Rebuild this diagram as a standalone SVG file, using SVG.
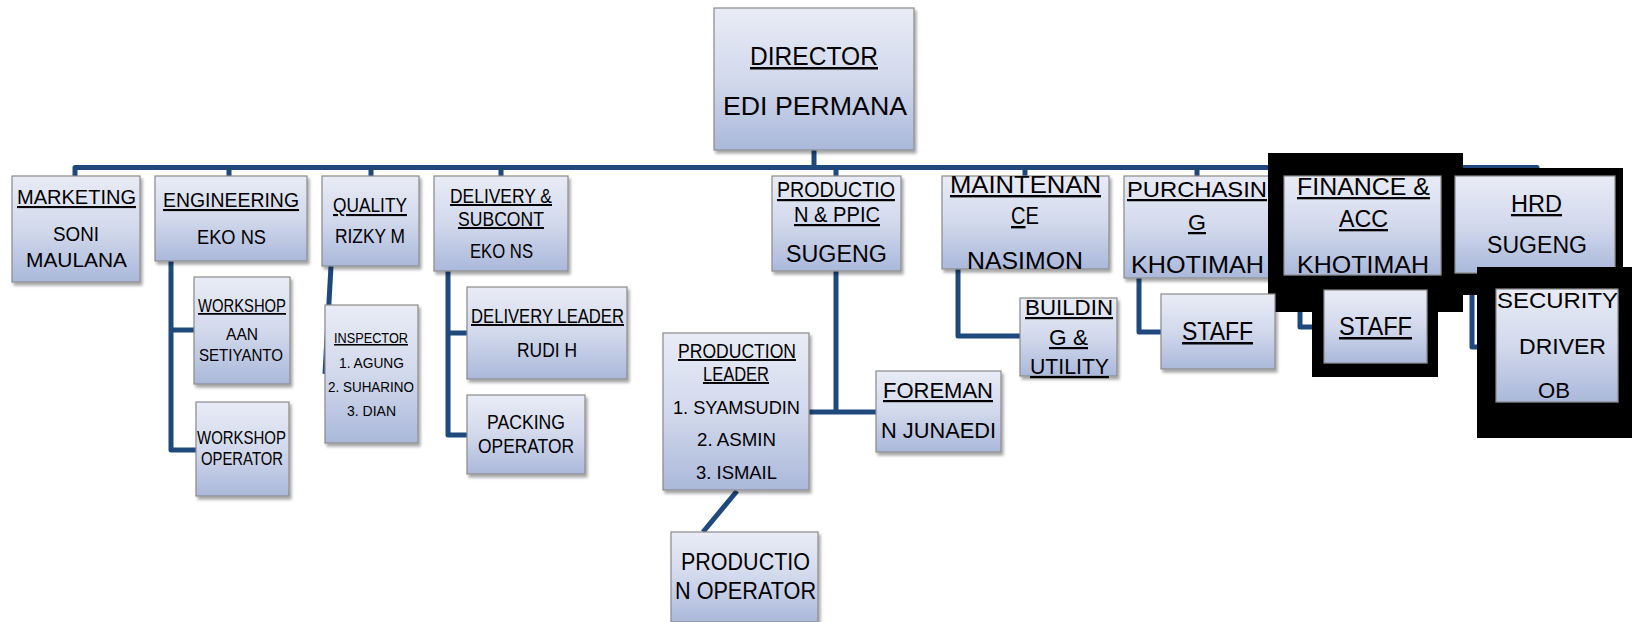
<svg xmlns="http://www.w3.org/2000/svg" width="1632" height="622" viewBox="0 0 1632 622">
<defs>
<linearGradient id="g" x1="0" y1="0" x2="0" y2="1">
<stop offset="0" stop-color="#e9ecf6"/>
<stop offset="0.5" stop-color="#d2d9ec"/>
<stop offset="1" stop-color="#aab8da"/>
</linearGradient>
<filter id="sh" x="-10%" y="-10%" width="125%" height="125%">
<feDropShadow dx="2" dy="3" stdDeviation="1.8" flood-color="#000" flood-opacity="0.35"/>
</filter>
<style>
.box{fill:url(#g);stroke:#8a8a8a;stroke-width:1.2;filter:url(#sh)}
.blk{fill:#000}
text{font-family:"Liberation Sans",Arial,sans-serif;fill:#000}
.u{text-decoration:underline}
.ln{fill:none;stroke:#1f497d;stroke-width:5;stroke-linejoin:round;stroke-linecap:butt}
</style>
</defs>
<rect width="1632" height="622" fill="#fff"/>
<g id="connectors" class="ln">
<path d="M814,150 V168"/>
<path d="M75,177 V167.5 H1537 V177"/>
<path d="M229,167 V177 M371,167 V177 M501,167 V177 M836,167 V177 M1025,167 V177 M1197,167 V177 M1364,167 V177"/>
<path d="M171,261 V450 H196 M171,330 H194"/>
<path d="M331,266 L325,374"/>
<path d="M448,271 V435 H468 M448,333 H468"/>
<path d="M836,271 V412 M809,412 H876"/>
<path d="M737,491 L703,532"/>
<path d="M958,269 V336 H1020"/>
<path d="M1139,278 V332 H1161"/>
<path d="M1300,312 V327 H1312"/>
<path d="M1472,295 V347 H1477"/>
</g>
<g id="director">
<rect class="box" x="714" y="8" width="200" height="142"/>
<text class="u" x="750" y="65" font-size="25" textLength="128" lengthAdjust="spacingAndGlyphs">DIRECTOR</text>
<text x="723" y="115" font-size="25" textLength="184" lengthAdjust="spacingAndGlyphs">EDI PERMANA</text>
</g>
<g id="marketing">
<rect class="box" x="12" y="176" width="128" height="106"/>
<text class="u" x="17" y="204" font-size="21" textLength="119" lengthAdjust="spacingAndGlyphs">MARKETING</text>
<text x="53" y="241" font-size="20" textLength="46" lengthAdjust="spacingAndGlyphs">SONI</text>
<text x="26" y="267" font-size="20" textLength="101" lengthAdjust="spacingAndGlyphs">MAULANA</text>
</g>
<g id="engineering">
<rect class="box" x="155" y="176" width="152" height="85"/>
<text class="u" x="163" y="207" font-size="21" textLength="136" lengthAdjust="spacingAndGlyphs">ENGINEERING</text>
<text x="197" y="244" font-size="20" textLength="69" lengthAdjust="spacingAndGlyphs">EKO NS</text>
</g>
<g id="quality">
<rect class="box" x="322" y="176" width="97" height="90"/>
<text class="u" x="333" y="212" font-size="21" textLength="74" lengthAdjust="spacingAndGlyphs">QUALITY</text>
<text x="335" y="243" font-size="20" textLength="70" lengthAdjust="spacingAndGlyphs">RIZKY M</text>
</g>
<g id="workshop">
<rect class="box" x="194" y="277" width="96" height="107"/>
<text class="u" x="198" y="312" font-size="17.5" textLength="88" lengthAdjust="spacingAndGlyphs">WORKSHOP</text>
<text x="226" y="340" font-size="17" textLength="32" lengthAdjust="spacingAndGlyphs">AAN</text>
<text x="199" y="361" font-size="17" textLength="84" lengthAdjust="spacingAndGlyphs">SETIYANTO</text>
</g>
<g id="workshop-operator">
<rect class="box" x="196" y="402" width="93" height="94"/>
<text x="197" y="444" font-size="17.5" textLength="89" lengthAdjust="spacingAndGlyphs">WORKSHOP</text>
<text x="201" y="465" font-size="17.5" textLength="82" lengthAdjust="spacingAndGlyphs">OPERATOR</text>
</g>
<g id="inspector">
<rect class="box" x="325" y="305" width="93" height="138"/>
<text class="u" x="334" y="343" font-size="15.4" textLength="74" lengthAdjust="spacingAndGlyphs">INSPECTOR</text>
<text x="339" y="368" font-size="15.4" textLength="65" lengthAdjust="spacingAndGlyphs">1. AGUNG</text>
<text x="328" y="392" font-size="15.4" textLength="86" lengthAdjust="spacingAndGlyphs">2. SUHARINO</text>
<text x="347" y="416" font-size="15.4" textLength="49" lengthAdjust="spacingAndGlyphs">3. DIAN</text>
</g>
<g id="delivery">
<rect class="box" x="434" y="176" width="134" height="95"/>
<text class="u" x="450" y="203" font-size="20" textLength="102" lengthAdjust="spacingAndGlyphs">DELIVERY &amp;</text>
<text class="u" x="458" y="226" font-size="20" textLength="86" lengthAdjust="spacingAndGlyphs">SUBCONT</text>
<text x="470" y="258" font-size="20" textLength="63" lengthAdjust="spacingAndGlyphs">EKO NS</text>
</g>
<g id="delivery-leader">
<rect class="box" x="467" y="287" width="160" height="92"/>
<text class="u" x="471" y="323" font-size="19.5" textLength="153" lengthAdjust="spacingAndGlyphs">DELIVERY LEADER</text>
<text x="517" y="357" font-size="19.5" textLength="60" lengthAdjust="spacingAndGlyphs">RUDI H</text>
</g>
<g id="packing-operator">
<rect class="box" x="467" y="395" width="118" height="79"/>
<text x="487" y="429" font-size="20" textLength="78" lengthAdjust="spacingAndGlyphs">PACKING</text>
<text x="478" y="453" font-size="20" textLength="96" lengthAdjust="spacingAndGlyphs">OPERATOR</text>
</g>
<g id="production-ppic">
<rect class="box" x="772" y="176" width="129" height="95"/>
<text class="u" x="777" y="197" font-size="22" textLength="118" lengthAdjust="spacingAndGlyphs">PRODUCTIO</text>
<text class="u" x="794" y="222" font-size="22" textLength="86" lengthAdjust="spacingAndGlyphs">N &amp; PPIC</text>
<text x="786" y="262" font-size="23" textLength="101" lengthAdjust="spacingAndGlyphs">SUGENG</text>
</g>
<g id="production-leader">
<rect class="box" x="663" y="333" width="146" height="157"/>
<text class="u" x="678" y="358" font-size="19.5" textLength="118" lengthAdjust="spacingAndGlyphs">PRODUCTION</text>
<text class="u" x="703" y="381" font-size="19.5" textLength="66" lengthAdjust="spacingAndGlyphs">LEADER</text>
<text x="673" y="414" font-size="18.6" textLength="127" lengthAdjust="spacingAndGlyphs">1. SYAMSUDIN</text>
<text x="697" y="446" font-size="18.6" textLength="79" lengthAdjust="spacingAndGlyphs">2. ASMIN</text>
<text x="696" y="479" font-size="18.6" textLength="81" lengthAdjust="spacingAndGlyphs">3. ISMAIL</text>
</g>
<g id="foreman">
<rect class="box" x="876" y="371" width="125" height="81"/>
<text class="u" x="883" y="398" font-size="22" textLength="110" lengthAdjust="spacingAndGlyphs">FOREMAN</text>
<text x="881" y="438" font-size="22" textLength="115" lengthAdjust="spacingAndGlyphs">N JUNAEDI</text>
</g>
<g id="production-operator">
<rect class="box" x="671" y="532" width="147" height="90"/>
<text x="681" y="570" font-size="23" textLength="129" lengthAdjust="spacingAndGlyphs">PRODUCTIO</text>
<text x="675" y="599" font-size="23" textLength="141" lengthAdjust="spacingAndGlyphs">N OPERATOR</text>
</g>
<g id="maintenance">
<rect class="box" x="942" y="176" width="167" height="93"/>
<text class="u" x="950" y="193" font-size="24" textLength="151" lengthAdjust="spacingAndGlyphs">MAINTENAN</text>
<text x="1011" y="224" font-size="24" textLength="28" lengthAdjust="spacingAndGlyphs"><tspan class="u">C</tspan>E</text>
<text x="967" y="269" font-size="24" textLength="116" lengthAdjust="spacingAndGlyphs">NASIMON</text>
</g>
<g id="building-utility">
<rect class="box" x="1020" y="298" width="97" height="78"/>
<text class="u" x="1025" y="315" font-size="22" textLength="88" lengthAdjust="spacingAndGlyphs">BUILDIN</text>
<text class="u" x="1049" y="345" font-size="22" textLength="39" lengthAdjust="spacingAndGlyphs">G &amp;</text>
<text class="u" x="1030" y="374" font-size="22" textLength="79" lengthAdjust="spacingAndGlyphs">UTILITY</text>
</g>
<g id="purchasing">
<rect class="box" x="1124" y="176" width="145" height="102"/>
<text class="u" x="1127" y="197" font-size="22.5" textLength="140" lengthAdjust="spacingAndGlyphs">PURCHASIN</text>
<text class="u" x="1188" y="230" font-size="22.5" textLength="18" lengthAdjust="spacingAndGlyphs">G</text>
<text x="1131" y="273" font-size="24" textLength="133" lengthAdjust="spacingAndGlyphs">KHOTIMAH</text>
</g>
<g id="finance-acc">
<rect class="blk" x="1268" y="153" width="195" height="159"/>
<rect class="box" x="1284" y="176" width="157" height="99"/>
<text class="u" x="1297" y="195" font-size="23" textLength="133" lengthAdjust="spacingAndGlyphs">FINANCE &amp;</text>
<text class="u" x="1339" y="227" font-size="23" textLength="49" lengthAdjust="spacingAndGlyphs">ACC</text>
<text x="1297" y="273" font-size="24" textLength="132" lengthAdjust="spacingAndGlyphs">KHOTIMAH</text>
</g>
<g id="finance-staff">
<rect class="blk" x="1312" y="288" width="126" height="89"/>
<rect class="box" x="1324" y="290" width="103" height="73"/>
<text class="u" x="1339" y="335" font-size="25" textLength="73" lengthAdjust="spacingAndGlyphs">STAFF</text>
</g>
<g id="purchasing-staff">
<rect class="box" x="1161" y="294" width="114" height="75"/>
<text class="u" x="1182" y="340" font-size="25" textLength="71" lengthAdjust="spacingAndGlyphs">STAFF</text>
</g>
<g id="hrd">
<rect class="blk" x="1451" y="168" width="172" height="127"/>
<rect class="box" x="1455" y="176" width="160" height="97"/>
<text class="u" x="1511" y="212" font-size="23" textLength="51" lengthAdjust="spacingAndGlyphs">HRD</text>
<text x="1487" y="253" font-size="23" textLength="100" lengthAdjust="spacingAndGlyphs">SUGENG</text>
</g>
<g id="security">
<rect class="blk" x="1477" y="267" width="155" height="171"/>
<rect class="box" x="1496" y="289" width="122" height="113"/>
<text x="1497" y="308" font-size="22.5" textLength="121" lengthAdjust="spacingAndGlyphs">SECURITY</text>
<text x="1519" y="354" font-size="22.5" textLength="87" lengthAdjust="spacingAndGlyphs">DRIVER</text>
<text x="1538" y="398" font-size="22.5" textLength="32" lengthAdjust="spacingAndGlyphs">OB</text>
</g>
</svg>
